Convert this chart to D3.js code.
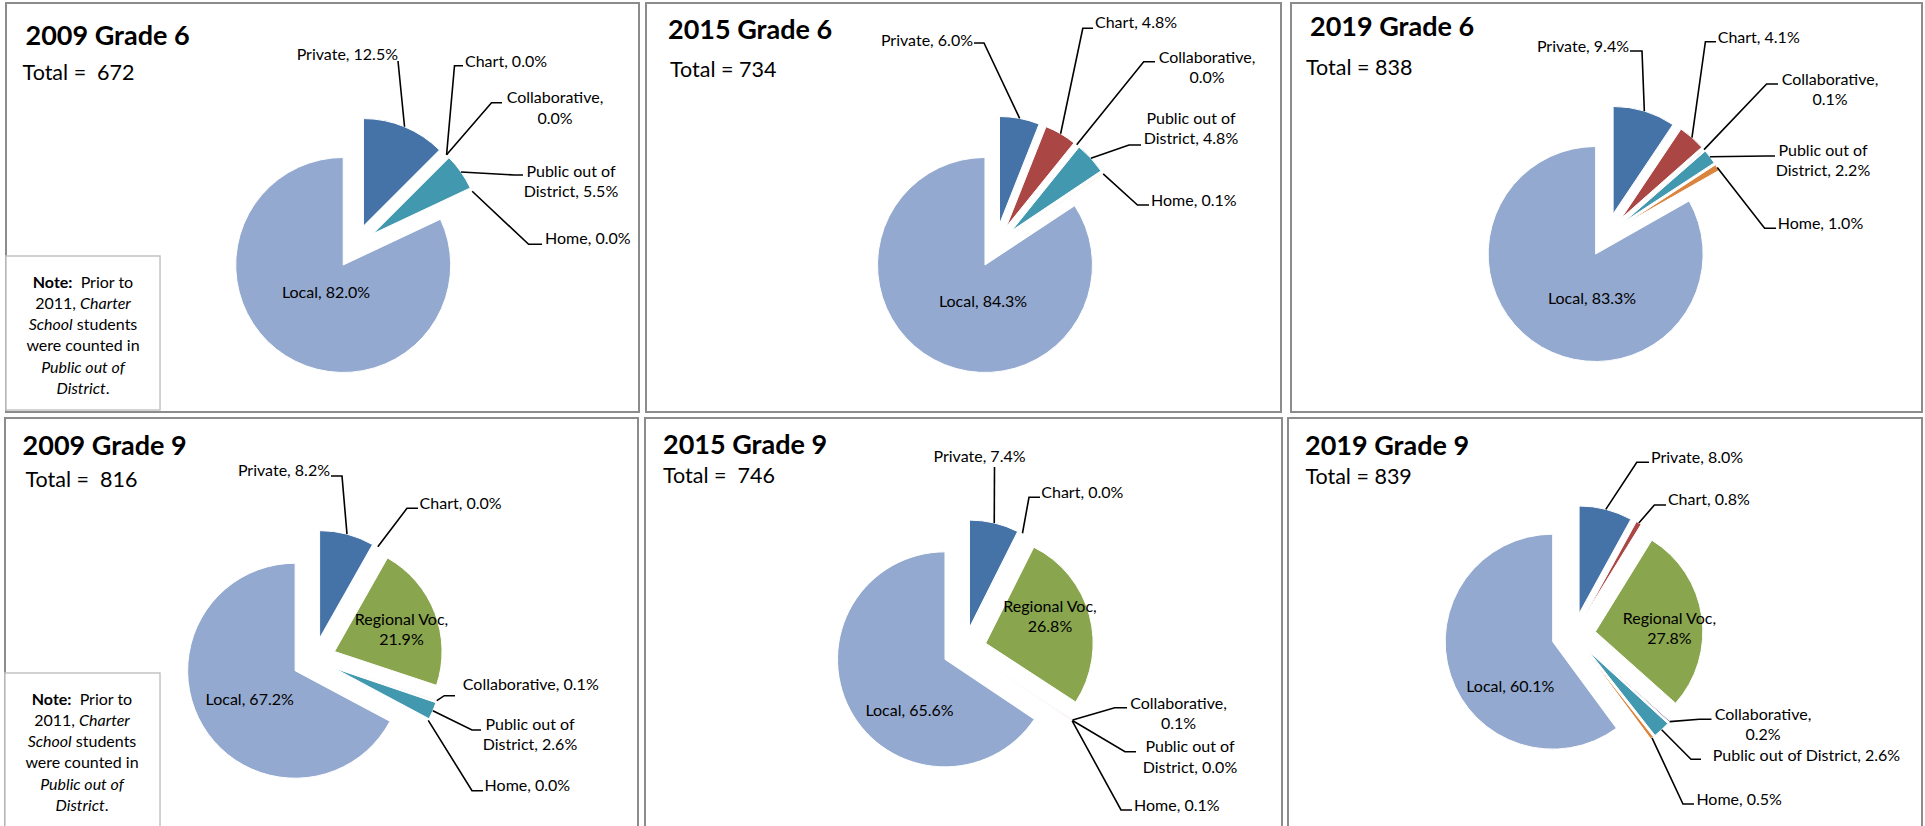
<!DOCTYPE html>
<html>
<head>
<meta charset="utf-8">
<title>Student destinations, Grade 6 and Grade 9</title>
<script src="https://cdnjs.cloudflare.com/ajax/libs/d3/7.8.5/d3.min.js"></script>
<style>
    body { margin: 0; background: #fff; }
    svg text { font-family: Lato, "Open Sans", sans-serif; fill: #000; white-space: pre; }
    .panel-box { fill: #fff; stroke: #8c8c8c; stroke-width: 2; }
    .note-box { fill: #fff; stroke: #c4c4c4; stroke-width: 1.5; }
    .title { font-size: 27px; font-weight: bold; }
    .total { font-size: 21.5px; }
    .slice-label { font-size: 16px; }
    .note { font-size: 16px; }
    .leader { fill: none; stroke: #000; stroke-width: 1.6; }
    .slice { stroke: #fff; stroke-width: 1; }
</style>
</head>
<body>
<div id="chart-area"></div>
<script>

/* * * * * * * * * * * * * *
*          DATA            *
* * * * * * * * * * * * * */

const chartTitles = ["2009 Grade 6", "2015 Grade 6", "2019 Grade 6", "2009 Grade 9", "2015 Grade 9", "2019 Grade 9"];
const totals = [672, 734, 838, 816, 746, 839];

const grade6Categories = ["Private", "Chart", "Collaborative", "Public out of District", "Home", "Local"];
const grade9Categories = ["Private", "Chart", "Regional Voc", "Collaborative", "Public out of District", "Home", "Local"];

// percent of students, same order as the category lists
const pct2009Grade6 = [12.5, 0.0, 0.0, 5.5, 0.0, 82.0];
const pct2015Grade6 = [6.0, 4.8, 0.0, 4.8, 0.1, 84.3];
const pct2019Grade6 = [9.4, 4.1, 0.1, 2.2, 1.0, 83.3];
const pct2009Grade9 = [8.2, 0.0, 21.9, 0.1, 2.6, 0.0, 67.2];
const pct2015Grade9 = [7.4, 0.0, 26.8, 0.1, 0.0, 0.1, 65.6];
const pct2019Grade9 = [8.0, 0.8, 27.8, 0.2, 2.6, 0.5, 60.1];

// note text, [text, style] pieces per line
const noteLines = [
    [["Note:", "b"], ["  Prior to", ""]],
    [["2011, ", ""], ["Charter", "i"]],
    [["School", "i"], [" students", ""]],
    [["were counted in", ""]],
    [["Public out of", "i"]],
    [["District", "i"], [".", ""]]
];

/* * * * * * * * * * * * * *
*         LAYOUT           *
* * * * * * * * * * * * * */

const RADIUS = 107.5;
const EXPLODE = 22;

const categoryColors = {
    "Private": "#4572A7",
    "Chart": "#AA4643",
    "Regional Voc": "#89A54E",
    "Collaborative": "#80699B",
    "Public out of District": "#4198AF",
    "Home": "#DB843D",
    "Local": "#94A9CF"
};

const panelLayout = [
    {box: [6, 3, 633, 409], center: [355, 246.4], title: [25.5, 45], total: [22.6, 80], gap: "  ", note: [6, 256, 154, 154]},
    {box: [646, 3, 635, 409], center: [995.4, 245.6], title: [668, 39], total: [670, 76.5], gap: " "},
    {box: [1291, 3, 631, 409], center: [1606.7, 235], title: [1310, 36], total: [1306, 75], gap: " "},
    {box: [5, 418, 633, 420], center: [314, 659.4], title: [22.6, 455], total: [25.5, 486.5], gap: "  ", note: [5, 673, 155, 170]},
    {box: [645, 418, 637, 420], center: [964.4, 649], title: [663, 454], total: [663, 483], gap: "  "},
    {box: [1288, 418, 634, 420], center: [1573.6, 634.8], title: [1305, 455], total: [1305.4, 484], gap: " "}
];

// per slice: [x, y of first line centre, anchor, break after n words, elbowX, elbowY, tickEndX]
// no elbow -> label sits inside the slice
const labelLayout = [
    [
        [398, 54, "end", 0, 398, 61, 398],
        [465, 61, "start", 0, 454.5, 65.7, 463],
        [555, 97.7, "middle", 1, 491.5, 102.7, 502],
        [571, 171, "middle", 3, 514, 175, 523],
        [545, 238, "start", 0, 528.6, 244.3, 542],
        [326, 292, "middle", 0]
    ],
    [
        [973, 40, "end", 0, 984, 43, 974],
        [1095, 22.3, "start", 0, 1082.8, 28.3, 1093],
        [1207, 57.3, "middle", 1, 1143.7, 61.7, 1155],
        [1191, 118.3, "middle", 3, 1129, 145, 1141],
        [1151, 200.7, "start", 0, 1137.5, 205, 1149],
        [983, 301, "middle", 0]
    ],
    [
        [1629, 46, "end", 0, 1642, 51, 1630],
        [1717.7, 37.7, "start", 0, 1705.4, 41.7, 1716],
        [1830, 79, "middle", 1, 1766.6, 84, 1778],
        [1823, 150, "middle", 3, 1766.6, 156, 1775],
        [1777.7, 223.3, "start", 0, 1764.6, 228.3, 1776],
        [1592, 298.3, "middle", 0]
    ],
    [
        [330, 470.7, "end", 0, 342, 476, 331],
        [419.6, 503.3, "start", 0, 407, 508.3, 418],
        [401.5, 619.3, "middle", 2],
        [462.8, 684.3, "start", 0, 444.3, 695.7, 455],
        [530, 724.3, "middle", 3, 472, 730, 481],
        [484.6, 785.7, "start", 0, 472, 790.7, 483],
        [249.7, 699.3, "middle", 0]
    ],
    [
        [979.5, 456.7, "middle", 0, 994.5, 467, 994.5],
        [1041.3, 492.7, "start", 0, 1029, 497.3, 1040],
        [1050, 606, "middle", 2],
        [1178.5, 703.3, "middle", 1, 1114.7, 707.7, 1127],
        [1190, 746.7, "middle", 3, 1125, 751.7, 1136],
        [1134, 805.7, "start", 0, 1121, 810, 1132],
        [909.5, 710, "middle", 0]
    ],
    [
        [1651, 457.3, "start", 0, 1636.8, 462.3, 1649],
        [1667.9, 499.3, "start", 0, 1654.4, 505, 1666],
        [1669.4, 618.3, "middle", 2],
        [1763, 714.3, "middle", 1, 1699.3, 719.3, 1711.5],
        [1712.8, 755, "start", 0, 1691, 759.3, 1701],
        [1696.4, 799.3, "start", 0, 1683, 804, 1694],
        [1510.3, 686.7, "middle", 0]
    ]
];

/* * * * * * * * * * * * * *
*         PiePanel         *
* * * * * * * * * * * * * */

class PiePanel {

    constructor(svg, title, total, categories, values, layout, labels) {
        this.svg = svg;
        this.title = title;
        this.total = total;
        this.categories = categories;
        this.values = values;
        this.layout = layout;
        this.labels = labels;
        this.displayData = [];

        this.initVis();
    }

    initVis() {
        let vis = this;
        let L = vis.layout;

        vis.g = vis.svg.append("g");

        // frame
        vis.g.append("rect")
            .attr("class", "panel-box")
            .attr("x", L.box[0]).attr("y", L.box[1])
            .attr("width", L.box[2]).attr("height", L.box[3]);

        // title + total
        vis.g.append("text")
            .attr("class", "title")
            .attr("x", L.title[0]).attr("y", L.title[1])
            .text(vis.title);

        vis.g.append("text")
            .attr("class", "total")
            .attr("x", L.total[0]).attr("y", L.total[1])
            .text("Total =" + L.gap + vis.total);

        if (L.note) vis.drawNote(L.note);

        vis.pie = d3.pie().sort(null).value(d => d.value);
        vis.arc = d3.arc().innerRadius(0).outerRadius(RADIUS);
        vis.outerArc = d3.arc().innerRadius(RADIUS).outerRadius(RADIUS);
        vis.line = d3.line();

        vis.pieGroup = vis.g.append("g")
            .attr("transform", `translate(${L.center[0]},${L.center[1]})`);
        vis.labelGroup = vis.g.append("g");

        this.wrangleData();
    }

    drawNote(n) {
        let vis = this;
        vis.g.append("rect")
            .attr("class", "note-box")
            .attr("x", n[0]).attr("y", n[1])
            .attr("width", n[2]).attr("height", n[3]);

        let cx = n[0] + 77;
        noteLines.forEach((pieces, i) => {
            let t = vis.g.append("text")
                .attr("class", "note")
                .attr("x", cx)
                .attr("y", n[1] + 31.5 + i * 21.3)
                .attr("text-anchor", "middle");
            pieces.forEach(p => {
                t.append("tspan")
                    .attr("font-weight", p[1] === "b" ? "bold" : null)
                    .attr("font-style", p[1] === "i" ? "italic" : null)
                    .text(p[0]);
            });
        });
    }

    wrangleData() {
        let vis = this;
        vis.displayData = vis.categories.map((c, i) => ({
            category: c,
            value: vis.values[i],
            label: vis.labels[i]
        }));
        vis.updateVis();
    }

    updateVis() {
        let vis = this;
        let cx = vis.layout.center[0], cy = vis.layout.center[1];

        let arcs = vis.pie(vis.displayData);

        // every slice pushed out along its bisector
        const shift = d => {
            let m = (d.startAngle + d.endAngle) / 2;
            return [EXPLODE * Math.sin(m), -EXPLODE * Math.cos(m)];
        };

        vis.pieGroup.selectAll(".slice")
            .data(arcs.filter(d => d.data.value > 0))
            .enter().append("path")
            .attr("class", "slice")
            .attr("transform", d => `translate(${shift(d)})`)
            .attr("d", vis.arc)
            .attr("fill", d => categoryColors[d.data.category]);

        // leader lines
        let outside = arcs.filter(d => d.data.label.length > 4);
        vis.labelGroup.selectAll(".leader")
            .data(outside)
            .enter().append("path")
            .attr("class", "leader")
            .attr("d", d => {
                let s = shift(d), o = vis.outerArc.centroid(d), lb = d.data.label;
                return vis.line([
                    [cx + s[0] + o[0], cy + s[1] + o[1]],
                    [lb[4], lb[5]],
                    [lb[6], lb[5]]
                ]);
            });

        // labels
        vis.labelGroup.selectAll(".slice-label")
            .data(arcs)
            .enter().append("text")
            .attr("class", "slice-label")
            .attr("text-anchor", d => d.data.label[2])
            .attr("fill", d => d.data.label.length > 4 ? "#000" : "#1a1a1a")
            .each(function (d) {
                let lb = d.data.label;
                let words = `${d.data.category}, ${d.data.value.toFixed(1)}%`.split(" ");
                let lines = lb[3] > 0
                    ? [words.slice(0, lb[3]).join(" "), words.slice(lb[3]).join(" ")]
                    : [words.join(" ")];
                lines.forEach((txt, i) => {
                    d3.select(this).append("tspan")
                        .attr("x", lb[0])
                        .attr("y", lb[1] + 5.5 + i * 20.5)
                        .text(txt);
                });
            });
    }
}

/* * * * * * * * * * * * * *
*          MAIN            *
* * * * * * * * * * * * * */

let svg = d3.select("#chart-area").append("svg")
    .attr("width", 1925)
    .attr("height", 826);

const panelValues = [pct2009Grade6, pct2015Grade6, pct2019Grade6, pct2009Grade9, pct2015Grade9, pct2019Grade9];

chartTitles.forEach((t, i) => {
    new PiePanel(svg, t, totals[i], i < 3 ? grade6Categories : grade9Categories,
        panelValues[i], panelLayout[i], labelLayout[i]);
});

</script>
</body>
</html>
